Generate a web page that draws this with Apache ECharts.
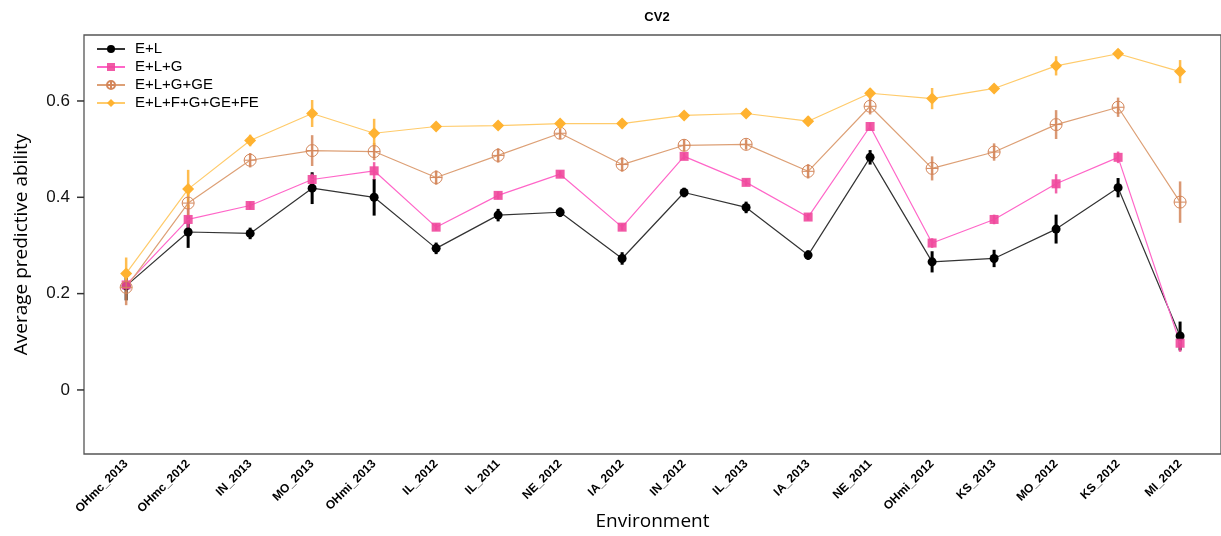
<!DOCTYPE html>
<html>
<head>
<meta charset="utf-8">
<script src="https://cdn.jsdelivr.net/npm/echarts@6/dist/echarts.min.js"></script>
<style>
html,body{margin:0;padding:0;background:#fff;}
#chart{width:1221px;height:536px;}
</style>
</head>
<body>
<div id="chart"></div>
<script>
const categories = ['OHmc_2013','OHmc_2012','IN_2013','MO_2013','OHmi_2013','IL_2012','IL_2011','NE_2012','IA_2012','IN_2012','IL_2013','IA_2013','NE_2011','OHmi_2012','KS_2013','MO_2012','KS_2012','MI_2012'];
const seriesNames = ['E+L','E+L+G','E+L+G+GE','E+L+F+G+GE+FE'];
const valEL    = [0.216,0.328,0.325,0.419,0.400,0.294,0.363,0.369,0.273,0.410,0.379,0.280,0.483,0.266,0.273,0.334,0.420,0.112];
const valELG   = [0.218,0.354,0.383,0.437,0.455,0.338,0.404,0.448,0.338,0.485,0.431,0.359,0.547,0.305,0.354,0.428,0.483,0.097];
const valELGGE = [0.213,0.388,0.477,0.497,0.495,0.441,0.487,0.533,0.468,0.508,0.510,0.454,0.589,0.460,0.494,0.551,0.587,0.390];
const valFull  = [0.242,0.417,0.518,0.574,0.533,0.547,0.549,0.553,0.553,0.570,0.574,0.558,0.616,0.605,0.626,0.673,0.698,0.661];
const errEL    = [0.030,0.033,0.012,0.033,0.038,0.012,0.013,0.010,0.013,0.010,0.012,0.010,0.015,0.022,0.018,0.030,0.020,0.030];
const errELG   = [0.012,0.030,0.008,0.012,0.018,0.007,0.008,0.007,0.007,0.007,0.007,0.007,0.008,0.010,0.010,0.020,0.012,0.018];
const errELGGE = [0.037,0.030,0.015,0.032,0.018,0.015,0.015,0.012,0.015,0.012,0.010,0.015,0.017,0.025,0.018,0.030,0.020,0.043];
const errFull  = [0.033,0.040,0.012,0.028,0.030,0.008,0.008,0.008,0.010,0.008,0.008,0.010,0.010,0.022,0.008,0.020,0.010,0.024];
const yTicks = [0, 0.2, 0.4, 0.6];

const X_MIN = -0.68, X_MAX = 17.66, Y_MIN = -0.133, Y_MAX = 0.737;
const vals = [valEL, valELG, valELGGE, valFull];
const errs = [errEL, errELG, errELGGE, errFull];
const markerColors = ['#000000','#F0489C','#D4865A','#FFB230'];
const lineColors   = ['#333333','#FF66C8','#DDA076','#FFCB6B'];
const errWidths    = [3, 2.5, 2.5, 2.5];
const crossCircle = 'path://M0,10A10,10 0 1,1 20,10A10,10 0 1,1 0,10Z M0,10L20,10 M10,0L10,20';
const symbols = ['circle','rect',crossCircle,'diamond'];
const symbolSizes = [9, 9, 12, 12];

const series = [];
// y-axis tick marks (outside the plot box)
series.push({
  type: 'custom',
  name: 'yticks',
  clip: false,
  silent: true,
  z: 1,
  data: yTicks.map(v => [X_MIN, v]),
  encode: { x: 0, y: 1 },
  renderItem: function (params, api) {
    const p = api.coord([api.value(0), api.value(1)]);
    return {
      type: 'line',
      shape: { x1: p[0] - 7, y1: p[1], x2: p[0], y2: p[1] },
      style: { stroke: '#333', lineWidth: 1.5 }
    };
  }
});
// error bars
vals.forEach((v, s) => {
  series.push({
    type: 'custom',
    name: seriesNames[s] + ' err',
    z: 2,
    data: v.map((val, i) => [i, val - errs[s][i], val + errs[s][i]]),
    encode: { x: 0, y: [1, 2] },
    renderItem: function (params, api) {
      const lo = api.coord([api.value(0), api.value(1)]);
      const hi = api.coord([api.value(0), api.value(2)]);
      return {
        type: 'line',
        shape: { x1: lo[0], y1: lo[1], x2: hi[0], y2: hi[1] },
        style: { stroke: markerColors[s], lineWidth: errWidths[s], opacity: s === 0 ? 1 : 0.85 }
      };
    },
    silent: true,
    tooltip: { show: false }
  });
});
// lines
vals.forEach((v, s) => {
  const isOpen = s === 2;
  series.push({
    type: 'line',
    name: seriesNames[s],
    z: 3,
    data: v.map((val, i) => [i, val]),
    symbol: symbols[s],
    symbolSize: symbolSizes[s],
    showSymbol: true,
    lineStyle: { color: lineColors[s], width: 1.2 },
    itemStyle: isOpen
      ? { color: 'rgba(255,255,255,0)', borderColor: markerColors[s], borderWidth: 1 }
      : { color: markerColors[s], borderWidth: 0, opacity: s === 1 ? 0.9 : 1 },
    emphasis: { disabled: true }
  });
});

const chart = echarts.init(document.getElementById('chart'), null, { renderer: 'canvas' });
chart.setOption({
  animation: false,
  backgroundColor: '#ffffff',
  title: {
    text: 'CV2',
    left: 652, top: 6, textAlign: 'center',
    textStyle: { fontFamily: 'Liberation Sans', fontWeight: 'bold', fontSize: 13, color: '#000' }
  },
  legend: {
    orient: 'vertical',
    left: 91, top: 36,
    itemWidth: 28, itemHeight: 10, itemGap: 2,
    data: seriesNames,
    textStyle: { fontFamily: 'Liberation Sans', fontSize: 15, lineHeight: 16, color: '#000', padding: [0, 0, 0, 5] }
  },
  grid: {
    show: true,
    left: 84, right: 0, top: 35, bottom: 82,
    borderColor: '#555', borderWidth: 1.3,
    containLabel: false,
    outerBoundsMode: 'none'
  },
  xAxis: {
    type: 'value',
    min: X_MIN, max: X_MAX,
    name: 'Environment',
    nameLocation: 'middle',
    nameGap: 58,
    nameMoveOverlap: false,
    nameTextStyle: { fontFamily: 'Open Sans', fontSize: 19, color: '#000' },
    axisLine: { show: false, onZero: false },
    axisTick: { show: false },
    splitLine: { show: false },
    axisLabel: {
      customValues: categories.map((c, i) => i),
      formatter: function (v) { return categories[Math.round(v)]; },
      rotate: 45,
      margin: 8,
      fontFamily: 'Liberation Sans', fontWeight: 'bold', fontSize: 12, color: '#000'
    }
  },
  yAxis: {
    type: 'value',
    min: Y_MIN, max: Y_MAX,
    name: 'Average predictive ability',
    nameLocation: 'middle',
    nameGap: 53,
    nameMoveOverlap: false,
    nameTextStyle: { fontFamily: 'Open Sans', fontSize: 19, color: '#000' },
    axisLine: { show: false, onZero: false },
    splitLine: { show: false },
    axisTick: { show: false },
    axisLabel: {
      customValues: yTicks,
      formatter: function (v) { return String(Math.round(v * 10) / 10); },
      margin: 14,
      fontFamily: 'Liberation Sans', fontSize: 17, color: '#111'
    }
  },
  series: series
});
</script>
</body>
</html>
